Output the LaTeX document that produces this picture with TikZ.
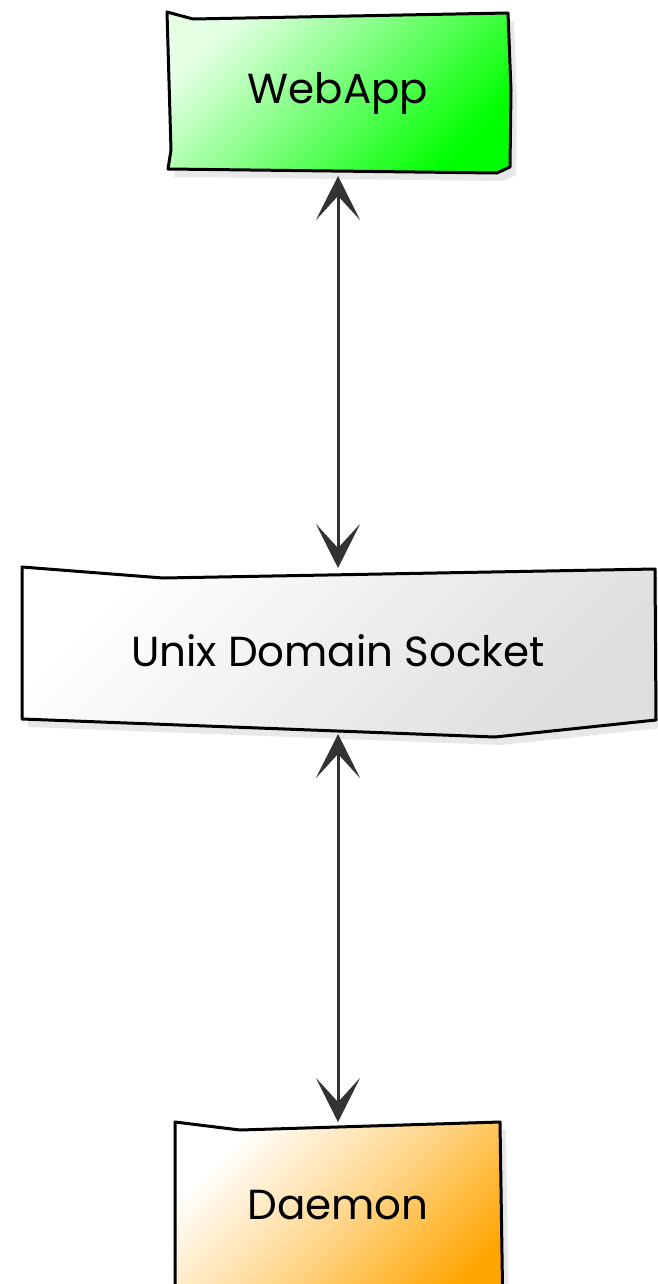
\documentclass[tikz,border=0pt]{standalone}
\usepackage{fontspec}
\setmainfont{Poppins}
\usetikzlibrary{arrows.meta,positioning,shadows,backgrounds}
\definecolor{appgreen}{RGB}{0,255,0}
\definecolor{daemonorange}{RGB}{255,165,0}

\begin{document}
\begin{tikzpicture}[x=0.5pt, y=-0.5pt, node distance=196pt,
    >={Stealth[length=22pt, width=22pt, inset=12pt]},
    box/.style={minimum height=83pt, inner sep=0pt, outer sep=0pt,
        font=\fontsize{21}{25}\selectfont},
    sketch/.style={line width=1.5pt, draw=black, line join=round,
        drop shadow={opacity=0.18, shadow xshift=3pt, shadow yshift=-4pt}},
    link/.style={<->, line width=1.5pt, draw=black!80, fill=black!80}]

    \useasboundingbox (0,0) rectangle (658,1284);

    % ============================================================
    % COMPONENTS
    % ============================================================
    \node[box, minimum width=172pt] at (338,93) (web) {WebApp};
    \node[box, minimum width=317pt, below=of web] (sock) {Unix Domain Socket};
    \node[box, minimum width=165pt, below=194pt of sock] (daemon) {Daemon};

    % ============================================================
    % HAND-DRAWN OUTLINES
    % ============================================================
    \begin{scope}[on background layer]
        \shadedraw[sketch, top color=appgreen!10, bottom color=appgreen,
            middle color=appgreen!55, shading angle=45]
            (167,12) -- (193,19) -- (508,13) -- (511,90) -- (510,167)
            -- (497,173) -- (168,169) -- (171,150) -- cycle;
        \shadedraw[sketch, top color=white, bottom color=black!13,
            shading angle=45]
            (22,567) -- (163,578) -- (655,569) -- (656,720)
            -- (495,737) -- (22,719) -- cycle;
        \shadedraw[sketch, top color=white, bottom color=daemonorange,
            middle color=daemonorange!45, shading angle=45]
            (175,1122) -- (240,1130) -- (500,1122) -- (503,1320)
            -- (175,1320) -- cycle;
    \end{scope}

    % ============================================================
    % CONNECTIONS
    % ============================================================
    \draw[link] (web) -- (sock);
    \draw[link] (sock) -- (daemon);

\end{tikzpicture}
\end{document}
